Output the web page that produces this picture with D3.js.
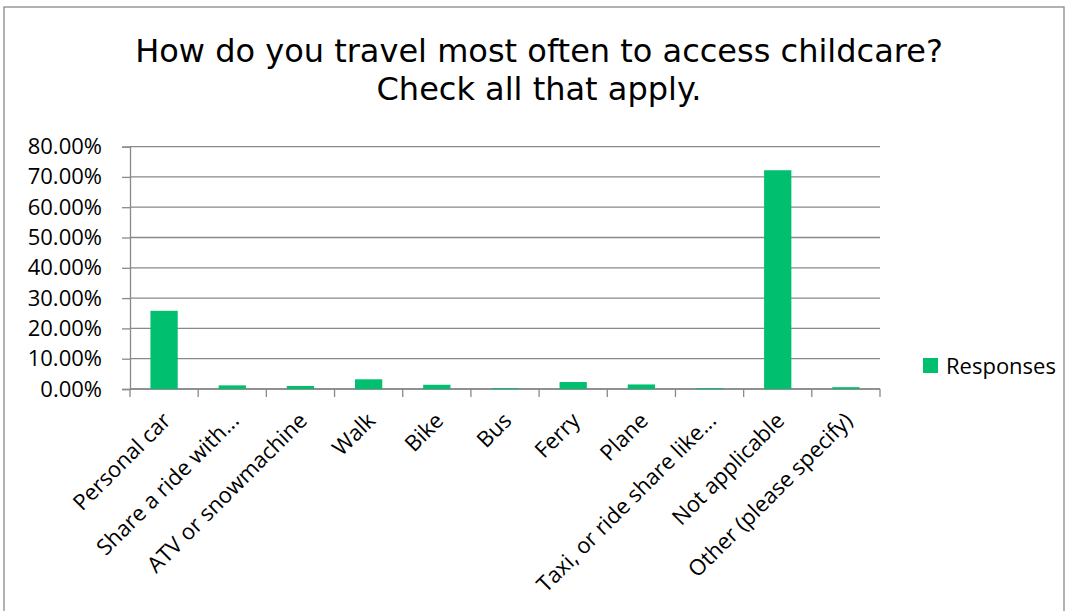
<!DOCTYPE html>
<html>
<head>
<meta charset="utf-8">
<script src="https://cdn.jsdelivr.net/npm/d3@7"></script>
<style>
  body { margin: 0; background: #fff; }
  svg text { fill: #000; }
</style>
</head>
<body>
<div id="chart"></div>
<script>
// categories along the bottom
var categories = [
    "Personal car",
    "Share a ride with...",
    "ATV or snowmachine",
    "Walk",
    "Bike",
    "Bus",
    "Ferry",
    "Plane",
    "Taxi, or ride share like...",
    "Not applicable",
    "Other (please specify)"
];

// share of responses, in percent
var responses = [25.8, 1.2, 1.0, 3.2, 1.4, 0.3, 2.3, 1.5, 0.3, 72.2, 0.6];

var yTicks = [0, 10, 20, 30, 40, 50, 60, 70, 80];
var seriesName = "Responses";
var titleLines = ["How do you travel most often to access childcare?", "Check all that apply."];

var svgWidth = 1073;
var svgHeight = 611;

var margin = { top: 146.6, right: 193, bottom: 222, left: 130 };
var width = 880 - margin.left;
var height = 389 - margin.top;

var labelFont = "'Open Sans', sans-serif";

var svg = d3.select("#chart")
    .append("svg")
    .attr("width", svgWidth)
    .attr("height", svgHeight);

// outer frame (bottom edge falls outside the picture)
svg.append("rect")
    .attr("x", 4)
    .attr("y", 7)
    .attr("width", 1060)
    .attr("height", 640)
    .attr("fill", "none")
    .attr("stroke", "#898989")
    .attr("stroke-width", 1.3);

// title
svg.append("text")
    .attr("text-anchor", "middle")
    .style("font-family", "'DejaVu Sans', sans-serif")
    .style("font-size", "32px")
    .selectAll("tspan")
    .data(titleLines)
    .enter()
    .append("tspan")
    .attr("x", 539)
    .attr("y", (d, i) => 62 + i * 38)
    .text(d => d);

var chartGroup = svg.append("g")
    .attr("transform", `translate(${margin.left}, ${margin.top})`);

var xScale = d3.scaleBand()
    .domain(categories)
    .range([0, width])
    .paddingInner(0.6)
    .paddingOuter(0.3);

var yScale = d3.scaleLinear()
    .domain([0, 80])
    .range([height, 0]);

// gridlines
chartGroup.append("g")
    .selectAll("line")
    .data(yTicks)
    .enter()
    .append("line")
    .attr("x1", 0)
    .attr("x2", width)
    .attr("y1", d => yScale(d))
    .attr("y2", d => yScale(d))
    .attr("stroke", "#898989")
    .attr("stroke-width", 1.3);

// y axis
var leftAxis = d3.axisLeft(yScale)
    .tickValues(yTicks)
    .tickSize(8)
    .tickPadding(20)
    .tickFormat(d => d.toFixed(2) + "%");

var yAxis = chartGroup.append("g").call(leftAxis);
yAxis.select(".domain").attr("stroke", "#898989").attr("stroke-width", 1.3);
yAxis.selectAll(".tick line").attr("stroke", "#898989").attr("stroke-width", 1.3);
yAxis.selectAll("text")
    .style("font-family", labelFont)
    .style("font-size", "22px")
    .attr("fill", "#000");

// x axis ticks at band boundaries
var step = xScale.step();
var boundaries = d3.range(categories.length + 1).map(i => i * step);

var xAxis = chartGroup.append("g")
    .attr("transform", `translate(0, ${height})`);

xAxis.append("line")
    .attr("x1", 0)
    .attr("x2", width)
    .attr("stroke", "#898989")
    .attr("stroke-width", 1.3);

xAxis.selectAll(".xtick")
    .data(boundaries)
    .enter()
    .append("line")
    .attr("class", "xtick")
    .attr("x1", d => d)
    .attr("x2", d => d)
    .attr("y1", 0)
    .attr("y2", 8)
    .attr("stroke", "#898989")
    .attr("stroke-width", 1.3);

xAxis.selectAll(".xlabel")
    .data(categories)
    .enter()
    .append("text")
    .attr("class", "xlabel")
    .attr("text-anchor", "end")
    .attr("transform", d => `translate(${xScale(d) + xScale.bandwidth() / 2 + 8}, 33) rotate(-45)`)
    .style("font-family", labelFont)
    .style("font-size", "22px")
    .text(d => d);

// bars
chartGroup.selectAll("rect.bar")
    .data(responses)
    .enter()
    .append("rect")
    .attr("class", "bar")
    .attr("x", (d, i) => xScale(categories[i]))
    .attr("width", xScale.bandwidth())
    .attr("y", d => yScale(d))
    .attr("height", d => height - yScale(d))
    .attr("fill", "#00BF6F");

// legend
var legend = svg.append("g")
    .attr("transform", "translate(923, 358)");

legend.append("rect")
    .attr("width", 15)
    .attr("height", 15)
    .attr("fill", "#00BF6F");

legend.append("text")
    .attr("x", 23)
    .attr("y", 16)
    .style("font-family", labelFont)
    .style("font-size", "22px")
    .text(seriesName);
</script>
</body>
</html>
